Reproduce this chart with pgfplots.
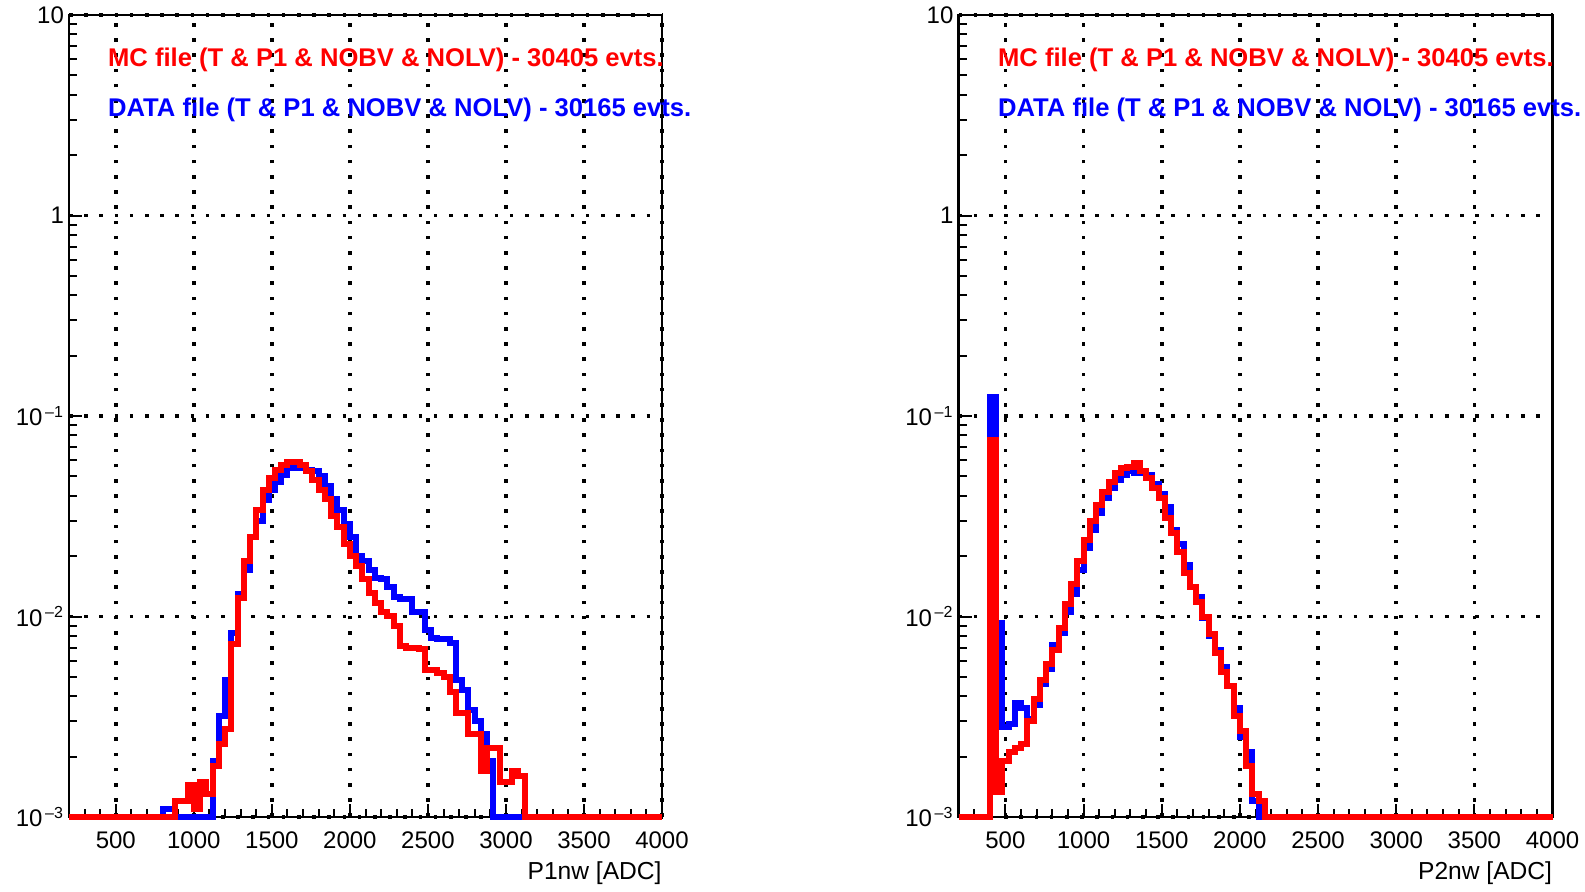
\documentclass[border=0pt]{standalone}
\usepackage{pgfplots}
\pgfplotsset{compat=1.18}
\usepackage{fontspec}
\setmainfont{Liberation Sans}

\begin{document}
\begin{tikzpicture}
\useasboundingbox (0,0) rectangle (792.5pt,445.5pt);

% ---------------- left panel ----------------
\begin{axis}[
    at={(34.5pt,37pt)}, anchor=south west,
    scale only axis, width=296.5pt, height=401pt,
    ymode=log, xmin=200, xmax=4000, ymin=1e-3, ymax=10,
    clip=false,
    axis line style={line width=1.4pt, black},
    xtick={500,1000,1500,2000,2500,3000,3500,4000},
    xticklabels={500,1000,1500,2000,2500,3000,3500,4000},
    minor xtick={300,400,600,700,800,900,1100,1200,1300,1400,1600,1700,1800,1900,2100,2200,2300,2400,2600,2700,2800,2900,3100,3200,3300,3400,3600,3700,3800,3900},
    ytick={0.001,0.01,0.1,1,10},
    yticklabels={10\textsuperscript{\,–3},10\textsuperscript{\,–2},10\textsuperscript{\,–1},1,10},
    minor ytick={0.002,0.003,0.004,0.005,0.006,0.007,0.008,0.009,0.02,0.03,0.04,0.05,0.06,0.07,0.08,0.09,0.2,0.3,0.4,0.5,0.6,0.7,0.8,0.9,2,3,4,5,6,7,8,9},
    tick align=inside, xtick pos=left, ytick pos=left,
    major tick length=6.5pt, minor tick length=4pt,
    tick style={black, line width=1pt},
    grid=major,
    major grid style={black, line width=1.8pt, dash pattern=on 1.8pt off 5.8pt},
    tick label style={font=\fontsize{12pt}{14pt}\selectfont},
    xticklabel style={yshift=-4pt},
    yticklabel style={xshift=1pt},
    xlabel={P1nw [ADC]},
    xlabel style={at={(rel axis cs:1,0)}, anchor=north east, yshift=-22pt, inner sep=0pt,
                  font=\fontsize{12.3pt}{14pt}\selectfont},
  ]
\addplot[const plot, mark=none, line width=3pt, line join=miter, blue] coordinates {
(200,0.001) (800,0.0011) (840,0.0011) (880,0.001) (1120,0.0019) (1160,0.0032) (1200,0.0048)
(1240,0.0083) (1280,0.013) (1320,0.017) (1360,0.025) (1400,0.030) (1440,0.038) (1480,0.043)
(1520,0.047) (1560,0.051) (1600,0.055) (1640,0.056) (1680,0.055) (1720,0.054) (1760,0.053)
(1800,0.050) (1840,0.045) (1880,0.0385) (1920,0.034) (1960,0.029) (2000,0.025) (2040,0.020)
(2080,0.019) (2120,0.017) (2160,0.0155) (2200,0.0153) (2240,0.014) (2280,0.0125) (2320,0.0122)
(2360,0.0122) (2400,0.0105) (2440,0.0105) (2480,0.0086) (2520,0.0078) (2560,0.0077) (2600,0.0077)
(2640,0.0074) (2680,0.0048) (2720,0.0043) (2760,0.0034) (2800,0.0030) (2840,0.0026) (2880,0.0019)
(2920,0.001) (4000,0.001)
};
\addplot[const plot, mark=none, line width=3pt, line join=miter, red] coordinates {
(200,0.001) (880,0.0012) (920,0.0012) (960,0.00145) (1000,0.0011) (1040,0.0015) (1080,0.0013)
(1120,0.0018) (1160,0.0023) (1200,0.00275) (1240,0.0073) (1280,0.0123) (1320,0.019) (1360,0.025)
(1400,0.034) (1440,0.043) (1480,0.049) (1520,0.054) (1560,0.057) (1600,0.059) (1640,0.059)
(1680,0.057) (1720,0.053) (1760,0.048) (1800,0.043) (1840,0.0385) (1880,0.0317) (1920,0.028)
(1960,0.023) (2000,0.020) (2040,0.0178) (2080,0.0153) (2120,0.0131) (2160,0.0117) (2200,0.0105)
(2240,0.0101) (2280,0.0090) (2320,0.0071) (2360,0.0070) (2400,0.0070) (2440,0.0069) (2480,0.0054)
(2520,0.0054) (2560,0.0052) (2600,0.0050) (2640,0.0042) (2680,0.0033) (2720,0.0033) (2760,0.0026)
(2800,0.0026) (2840,0.0017) (2880,0.0022) (2920,0.0022) (2960,0.0015) (3000,0.0015) (3040,0.0017)
(3080,0.0016) (3120,0.001) (4000,0.001)
};
\node[anchor=base west, inner sep=0pt, text=red, font=\fontsize{12.8pt}{15pt}\selectfont\bfseries]
  at (rel axis cs:0.0653,0.9355) {MC file (T \& P1 \& NOBV \& NOLV) - 30405 evts.};
\node[anchor=base west, inner sep=0pt, text=blue, font=\fontsize{12.8pt}{15pt}\selectfont\bfseries]
  at (rel axis cs:0.0653,0.8732) {DATA file (T \& P1 \& NOBV \& NOLV) - 30165 evts.};
\end{axis}

% ---------------- right panel ----------------
\begin{axis}[
    at={(479.25pt,37pt)}, anchor=south west,
    scale only axis, width=297pt, height=401pt,
    ymode=log, xmin=200, xmax=4000, ymin=1e-3, ymax=10,
    clip=false,
    axis line style={line width=1.4pt, black},
    xtick={500,1000,1500,2000,2500,3000,3500,4000},
    xticklabels={500,1000,1500,2000,2500,3000,3500,4000},
    minor xtick={300,400,600,700,800,900,1100,1200,1300,1400,1600,1700,1800,1900,2100,2200,2300,2400,2600,2700,2800,2900,3100,3200,3300,3400,3600,3700,3800,3900},
    ytick={0.001,0.01,0.1,1,10},
    yticklabels={10\textsuperscript{\,–3},10\textsuperscript{\,–2},10\textsuperscript{\,–1},1,10},
    minor ytick={0.002,0.003,0.004,0.005,0.006,0.007,0.008,0.009,0.02,0.03,0.04,0.05,0.06,0.07,0.08,0.09,0.2,0.3,0.4,0.5,0.6,0.7,0.8,0.9,2,3,4,5,6,7,8,9},
    tick align=inside, xtick pos=left, ytick pos=left,
    major tick length=6.5pt, minor tick length=4pt,
    tick style={black, line width=1pt},
    grid=major,
    major grid style={black, line width=1.8pt, dash pattern=on 1.8pt off 5.8pt},
    tick label style={font=\fontsize{12pt}{14pt}\selectfont},
    xticklabel style={yshift=-4pt},
    yticklabel style={xshift=1pt},
    xlabel={P2nw [ADC]},
    xlabel style={at={(rel axis cs:1,0)}, anchor=north east, yshift=-22pt, inner sep=0pt,
                  font=\fontsize{12.3pt}{14pt}\selectfont},
  ]
\addplot[const plot, mark=none, line width=3pt, line join=miter, blue] coordinates {
(200,0.001) (400,0.125) (440,0.0093) (480,0.0028) (520,0.0029) (560,0.0037) (600,0.0035)
(640,0.0031) (680,0.0036) (720,0.0046) (760,0.0055) (800,0.0072) (840,0.0083) (880,0.0105)
(920,0.0130) (960,0.017) (1000,0.022) (1040,0.027) (1080,0.033) (1120,0.039) (1160,0.044)
(1200,0.048) (1240,0.051) (1280,0.053) (1320,0.052) (1360,0.052) (1400,0.051) (1440,0.046)
(1480,0.041) (1520,0.035) (1560,0.027) (1600,0.023) (1640,0.018) (1680,0.0140) (1720,0.0125)
(1760,0.0098) (1800,0.0080) (1840,0.0068) (1880,0.0056) (1920,0.0045) (1960,0.0035) (2000,0.0025)
(2040,0.0021) (2080,0.0012) (2120,0.001) (4000,0.001)
};
\addplot[const plot, mark=none, line width=3pt, line join=miter, red] coordinates {
(200,0.001) (400,0.076) (440,0.00134) (480,0.0019) (520,0.0021) (560,0.0022) (600,0.0023)
(640,0.0030) (680,0.0039) (720,0.0048) (760,0.0058) (800,0.0068) (840,0.0088) (880,0.0115)
(920,0.0145) (960,0.019) (1000,0.024) (1040,0.030) (1080,0.036) (1120,0.042) (1160,0.047)
(1200,0.052) (1240,0.055) (1280,0.056) (1320,0.058) (1360,0.053) (1400,0.049) (1440,0.044)
(1480,0.039) (1520,0.031) (1560,0.026) (1600,0.021) (1640,0.0165) (1680,0.014) (1720,0.0118)
(1760,0.0100) (1800,0.0082) (1840,0.0066) (1880,0.0053) (1920,0.0045) (1960,0.0032) (2000,0.0027)
(2040,0.0018) (2080,0.0013) (2120,0.0012) (2160,0.001) (4000,0.001)
};
\node[anchor=base west, inner sep=0pt, text=red, font=\fontsize{12.8pt}{15pt}\selectfont\bfseries]
  at (rel axis cs:0.066,0.9355) {MC file (T \& P1 \& NOBV \& NOLV) - 30405 evts.};
\node[anchor=base west, inner sep=0pt, text=blue, font=\fontsize{12.8pt}{15pt}\selectfont\bfseries]
  at (rel axis cs:0.066,0.8732) {DATA file (T \& P1 \& NOBV \& NOLV) - 30165 evts.};
\end{axis}
\end{tikzpicture}
\end{document}
